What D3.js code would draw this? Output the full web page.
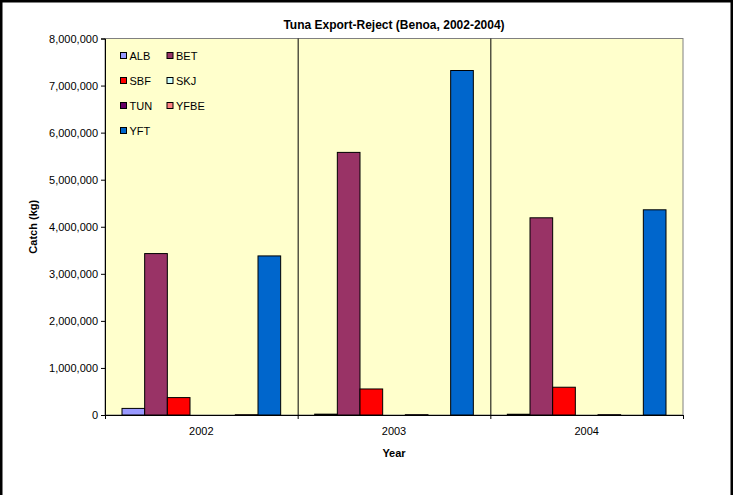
<!DOCTYPE html>
<html>
<head>
<meta charset="utf-8">
<script src="https://cdn.jsdelivr.net/npm/d3@7"></script>
<style>
  html, body { margin: 0; padding: 0; background: #ffffff; }
  svg { display: block; font-family: "Liberation Sans", Arial, sans-serif; }
</style>
</head>
<body>
<svg id="chart" width="733" height="495"></svg>
<script>
// Export-reject catch by species and year (kg)
const years = ["2002", "2003", "2004"];
const species = ["ALB", "BET", "SBF", "SKJ", "TUN", "YFBE", "YFT"];
const speciesColors = ["#9999FF", "#993366", "#FF0000", "#CCFFFF", "#660066", "#FF8080", "#0066CC"];
const ALB  = [140000, 18000, 16000];
const BET  = [3430000, 5580000, 4190000];
const SBF  = [370000, 553000, 590000];
const SKJ  = [0, 0, 0];
const TUN  = [0, 6000, 6000];
const YFBE = [6000, 0, 0];
const YFT  = [3380000, 7320000, 4360000];
const yTicks = [0, 1000000, 2000000, 3000000, 4000000, 5000000, 6000000, 7000000, 8000000];

const seriesValues = [ALB, BET, SBF, SKJ, TUN, YFBE, YFT];

const svg = d3.select("#chart");
const W = 733, H = 495;
const plot = { left: 105, right: 683, top: 38.5, bottom: 415 };

// outer frame (top, left and right edges)
svg.append("path")
  .attr("d", `M1.25,${H} V1.25 H${W - 1.25} V${H}`)
  .attr("fill", "none").attr("stroke", "#000").attr("stroke-width", 2.5);

const x0 = d3.scaleBand().domain(years).range([plot.left, plot.right]).paddingInner(0).paddingOuter(0);
// 7 bars with a gap of 1.5 bar widths per category
const x1 = d3.scaleBand().domain(species).range([0, x0.bandwidth()])
  .paddingInner(0).paddingOuter(0.75);
const y = d3.scaleLinear().domain([0, 8000000]).range([plot.bottom, plot.top]);

// plot area background
svg.append("rect")
  .attr("x", plot.left).attr("y", plot.top)
  .attr("width", plot.right - plot.left).attr("height", plot.bottom - plot.top)
  .attr("fill", "#FFFFCC").attr("stroke", "#808080").attr("stroke-width", 1);

// category separators
svg.append("g").selectAll("line")
  .data(years.slice(1))
  .join("line")
  .attr("x1", d => x0(d) + 0.5).attr("x2", d => x0(d) + 0.5)
  .attr("y1", plot.top).attr("y2", plot.bottom)
  .attr("stroke", "#000").attr("stroke-width", 1);

// bars
const groups = svg.append("g").selectAll("g")
  .data(years)
  .join("g")
  .attr("transform", d => `translate(${x0(d)},0)`);

groups.selectAll("rect")
  .data((yr, i) => species.map((s, k) => ({ s, k, v: seriesValues[k][i] })).filter(d => d.v > 0))
  .join("rect")
  .attr("x", d => x1(d.s))
  .attr("y", d => y(d.v))
  .attr("width", x1.bandwidth())
  .attr("height", d => y(0) - y(d.v))
  .attr("fill", d => speciesColors[d.k])
  .attr("stroke", "#000").attr("stroke-width", 1);

// y axis
const yAxis = svg.append("g")
  .attr("transform", `translate(${plot.left},0)`)
  .call(d3.axisLeft(y).tickValues(yTicks).tickFormat(d3.format(",")).tickSizeOuter(0).tickSize(4).tickPadding(3));
yAxis.select(".domain").attr("stroke", "#000");
yAxis.selectAll(".tick line").attr("stroke", "#000");
yAxis.selectAll("text").attr("font-size", 11).attr("fill", "#000")
  .attr("font-family", "Liberation Sans, Arial, sans-serif");

// x axis
const xAxis = svg.append("g")
  .attr("transform", `translate(0,${plot.bottom})`)
  .call(d3.axisBottom(x0).tickSize(0).tickPadding(12));
xAxis.select(".domain").attr("stroke", "#000");
xAxis.selectAll("text").attr("font-size", 11).attr("fill", "#000")
  .attr("font-family", "Liberation Sans, Arial, sans-serif");
// tick marks between categories
svg.append("g").selectAll("line")
  .data([plot.left, ...years.slice(1).map(d => x0(d)), plot.right])
  .join("line")
  .attr("x1", d => d + 0.5).attr("x2", d => d + 0.5)
  .attr("y1", plot.bottom).attr("y2", plot.bottom + 4)
  .attr("stroke", "#000");

// titles
svg.append("text")
  .attr("x", (plot.left + plot.right) / 2).attr("y", 29)
  .attr("text-anchor", "middle").attr("font-size", 12).attr("font-weight", "bold")
  .text("Tuna Export-Reject (Benoa, 2002-2004)");
svg.append("text")
  .attr("x", (plot.left + plot.right) / 2).attr("y", 457)
  .attr("text-anchor", "middle").attr("font-size", 11).attr("font-weight", "bold")
  .text("Year");
svg.append("text")
  .attr("transform", `translate(37,${(plot.top + plot.bottom) / 2}) rotate(-90)`)
  .attr("text-anchor", "middle").attr("font-size", 11).attr("font-weight", "bold")
  .text("Catch (kg)");

// legend: two columns inside the plot area
const legend = svg.append("g");
const items = legend.selectAll("g")
  .data(species.map((s, k) => ({ s, k })))
  .join("g")
  .attr("transform", d => `translate(${120 + (d.k % 2) * 46.5},${56 + Math.floor(d.k / 2) * 25})`);
items.append("rect")
  .attr("x", 0.5).attr("y", -3.5).attr("width", 6).attr("height", 6)
  .attr("fill", d => speciesColors[d.k]).attr("stroke", "#000").attr("stroke-width", 1);
items.append("text")
  .attr("x", 9.5).attr("y", 4).attr("font-size", 11).attr("fill", "#000")
  .text(d => d.s);
</script>
</body>
</html>
